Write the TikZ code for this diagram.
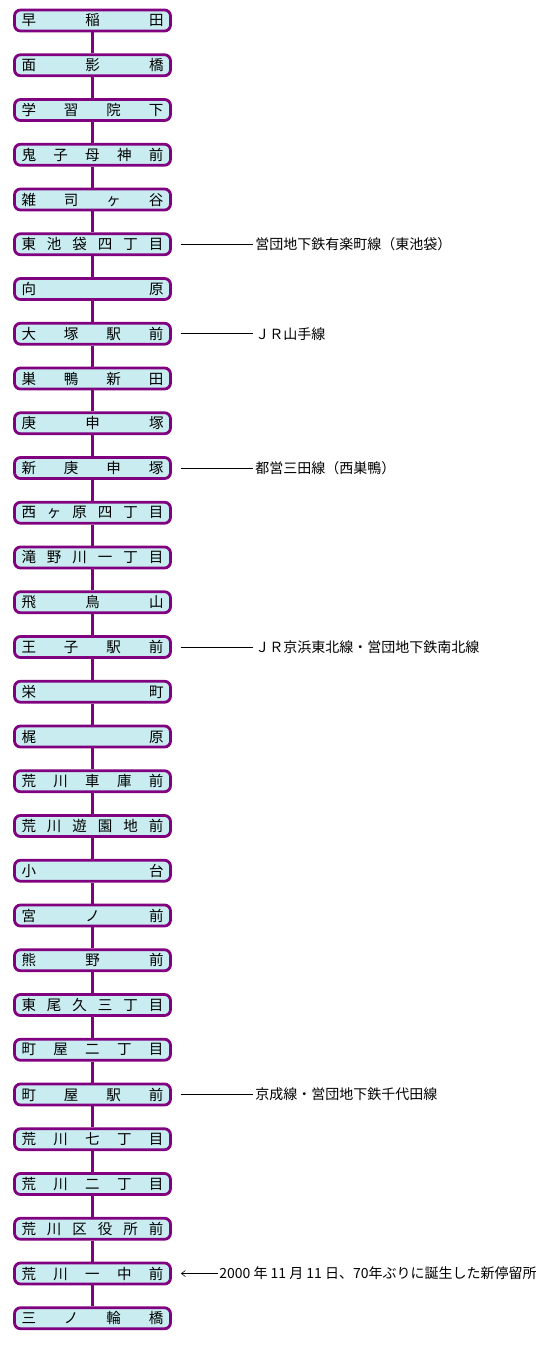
\documentclass[tikz,border=0pt]{standalone}
\usepackage{fontspec}
\setmainfont{Noto Sans CJK JP}
\usetikzlibrary{arrows.meta}
\definecolor{tramline}{HTML}{800080}
\definecolor{stopfill}{HTML}{C8ECF0}
\tikzset{
  stopbox/.style={draw=tramline, line width=2.8pt, fill=stopfill, rounded corners=6pt,
    minimum width=156pt, minimum height=21pt, inner sep=0pt},
  transfer/.style={anchor=west, inner sep=0pt, font=\fontsize{14}{16}\selectfont},
}
\newcommand{\stopname}[1]{\makebox[142pt][s]{#1}}
\begin{document}
\begin{tikzpicture}[x=1pt, y=-1pt, line width=0.6pt, font=\fontsize{14.5}{16}\selectfont]
  \useasboundingbox (0,0) rectangle (547,1345);
  \foreach \name [count=\i] in {早 稲 田, 面 影 橋, 学 習 院 下, 鬼 子 母 神 前, 雑 司 ヶ 谷,
      東 池 袋 四 丁 目, 向 原, 大 塚 駅 前, 巣 鴨 新 田, 庚 申 塚, 新 庚 申 塚,
      西 ヶ 原 四 丁 目, 滝 野 川 一 丁 目, 飛 鳥 山, 王 子 駅 前, 栄 町, 梶 原,
      荒 川 車 庫 前, 荒 川 遊 園 地 前, 小 台, 宮 ノ 前, 熊 野 前, 東 尾 久 三 丁 目,
      町 屋 二 丁 目, 町 屋 駅 前, 荒 川 七 丁 目, 荒 川 二 丁 目, 荒 川 区 役 所 前,
      荒 川 一 中 前, 三 ノ 輪 橋}
    \node[stopbox] (s\i) at (92.5,{20.5+(\i-1)*44.75}) {\stopname{\name}};
  \foreach \i [evaluate=\i as \j using int(\i+1)] in {1,...,29}
    \draw[tramline, line width=2.8pt] (s\i.south) -- (s\j.north);
  % connections to other lines
  \foreach \i/\txt in {6/営団地下鉄有楽町線（東池袋）, 8/ＪＲ山手線, 11/都営三田線（西巣鴨）,
      15/ＪＲ京浜東北線・営団地下鉄南北線, 25/京成線・営団地下鉄千代田線} {
    \node[transfer] (t\i) at (s\i -| 255,0) {\txt};
    \draw ([xshift=9pt]s\i.east) -- ([xshift=-2pt]t\i.west);
  }
  \node[transfer] (t29) at (s29 -| 219,0) {2000 年 11 月 11 日、70年ぶりに誕生した新停留所};
  \draw[{Straight Barb[length=4pt, width=6pt]}-] ([xshift=9pt]s29.east) -- ([xshift=-1pt]t29.west);
\end{tikzpicture}
\end{document}
